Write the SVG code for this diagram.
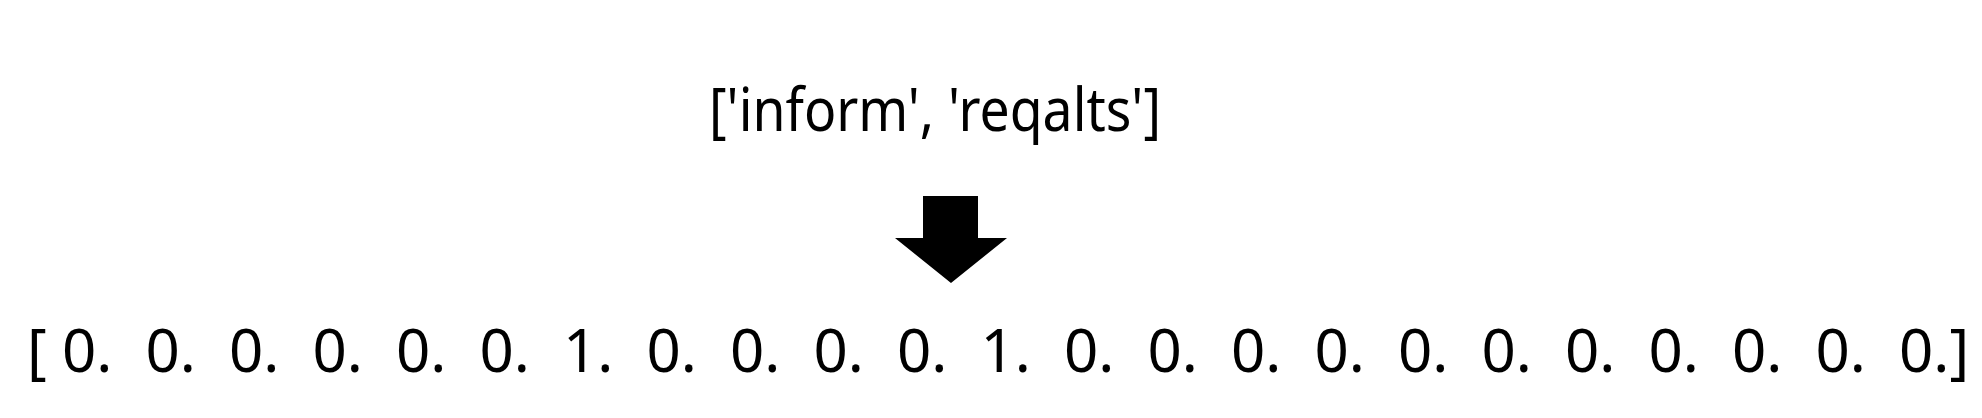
<svg xmlns="http://www.w3.org/2000/svg" width="1982" height="418" viewBox="0 0 1982 418">
<style>
.t{font-family:"Noto Sans","Open Sans","DejaVu Sans",sans-serif;font-size:60px;fill:#000;}
</style>
<rect width="1982" height="418" fill="#fff"/>
<g id="node-labels">
<text class="t" x="709" y="131" textLength="452" lengthAdjust="spacingAndGlyphs">['inform', 'reqalts']</text>
</g>
<g id="connectors">
<polygon points="923,196 978,196 978,238 1007,238 951,283 895,238 923,238" fill="#000"/>
</g>
<g id="node-vector">
<text class="t" y="372"><tspan x="27">[</tspan><tspan x="62">0.</tspan><tspan x="145.5">0.</tspan><tspan x="229">0.</tspan><tspan x="312.5">0.</tspan><tspan x="396">0.</tspan><tspan x="479.5">0.</tspan><tspan x="563">1.</tspan><tspan x="646.5">0.</tspan><tspan x="730">0.</tspan><tspan x="813.5">0.</tspan><tspan x="897">0.</tspan><tspan x="980.5">1.</tspan><tspan x="1064">0.</tspan><tspan x="1147.5">0.</tspan><tspan x="1231">0.</tspan><tspan x="1314.5">0.</tspan><tspan x="1398">0.</tspan><tspan x="1481.5">0.</tspan><tspan x="1565">0.</tspan><tspan x="1648.5">0.</tspan><tspan x="1732">0.</tspan><tspan x="1815.5">0.</tspan><tspan x="1899">0.]</tspan></text>
</g>
</svg>
